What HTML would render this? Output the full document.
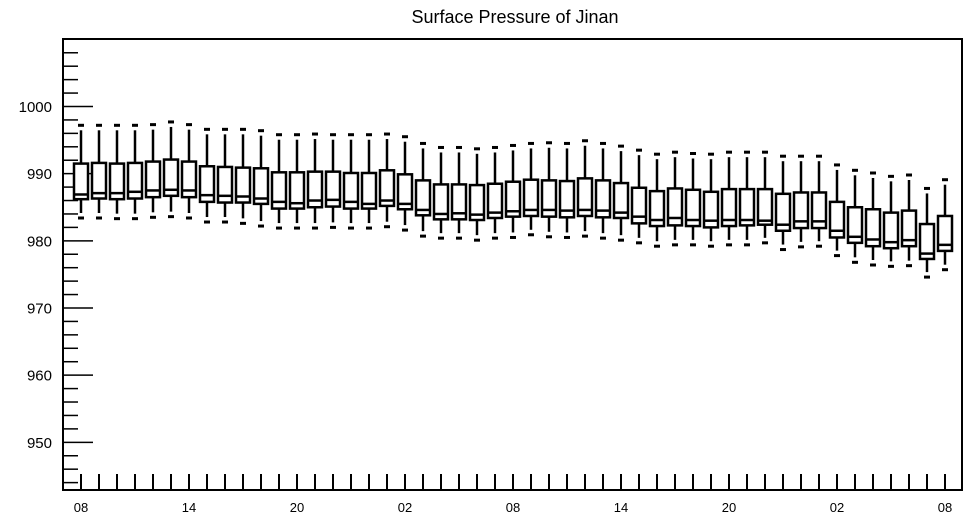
<!DOCTYPE html>
<html><head><meta charset="utf-8"><style>
html,body{margin:0;padding:0;background:#fff;}
svg{display:block;font-family:"Liberation Sans",Arial,sans-serif;}
</style></head><body>
<svg id="chart" width="968" height="518" viewBox="0 0 968 518">
<text x="515" y="23" text-anchor="middle" font-size="18">Surface Pressure of Jinan</text>
<rect x="63" y="39" width="899" height="451" fill="none" stroke="#000" stroke-width="2"/>
<g id="yaxis"></g>
<g id="xaxis"></g>
<g id="boxes"></g>
</svg>
<script>
const hiVals=[997.2,997.2,997.2,997.2,997.3,997.7,997.3,996.6,996.6,996.6,996.4,995.8,995.8,995.9,995.8,995.8,995.8,995.9,995.5,994.5,993.9,993.9,993.7,993.9,994.2,994.5,994.6,994.5,994.9,994.5,994.1,993.5,992.9,993.2,993.0,992.9,993.2,993.2,993.2,992.6,992.6,992.6,991.3,990.5,990.1,989.6,989.8,987.8,989.1];
const q3Vals=[991.5,991.6,991.5,991.6,991.8,992.1,991.8,991.1,991.0,990.9,990.8,990.2,990.2,990.3,990.3,990.1,990.1,990.5,989.9,989.0,988.4,988.4,988.3,988.5,988.8,989.1,989.0,988.9,989.3,989.0,988.6,987.9,987.4,987.8,987.6,987.3,987.7,987.7,987.7,987.0,987.2,987.2,985.8,985.0,984.7,984.2,984.5,982.5,983.7];
const medVals=[986.9,987.1,987.1,987.3,987.5,987.6,987.5,986.8,986.7,986.6,986.3,985.8,985.6,986.0,986.1,985.8,985.5,986.0,985.5,984.6,984.0,984.1,983.9,984.2,984.4,984.6,984.6,984.5,984.6,984.5,984.2,983.6,983.1,983.4,983.1,983.0,983.1,983.1,983.0,982.4,982.9,982.9,981.5,980.6,980.2,979.8,980.1,978.1,979.4];
const q1Vals=[986.2,986.3,986.2,986.3,986.5,986.7,986.5,985.8,985.7,985.7,985.5,984.8,984.8,985.0,985.1,984.8,984.8,985.2,984.7,983.8,983.2,983.2,983.1,983.4,983.6,983.7,983.6,983.5,983.7,983.5,983.4,982.6,982.2,982.3,982.2,982.0,982.2,982.3,982.4,981.5,981.9,981.9,980.5,979.7,979.2,978.9,979.2,977.3,978.5];
const loVals=[983.4,983.4,983.3,983.3,983.5,983.6,983.4,982.8,982.8,982.6,982.2,981.9,981.9,981.9,982.0,981.9,981.9,982.1,981.6,980.7,980.4,980.4,980.1,980.4,980.5,980.9,980.6,980.5,980.7,980.4,980.1,979.7,979.2,979.4,979.4,979.2,979.4,979.4,979.7,978.7,979.1,979.2,977.8,976.8,976.4,976.2,976.3,974.6,975.7];
const yTickLabels=["950","960","970","980","990","1000"];
const xTickLabels=["08","14","20","02","08","14","20","02","08"];

const NS="http://www.w3.org/2000/svg";
const yMin=942.9,yMax=1010.05,top0=39,bot0=490;
function yS(v){return bot0-(v-yMin)/(yMax-yMin)*(bot0-top0);}
function xS(i){return 81+i*18;}
function mk(tag,attrs,parent){const e=document.createElementNS(NS,tag);for(const k in attrs)e.setAttribute(k,attrs[k]);parent.appendChild(e);return e;}
const ya=document.getElementById('yaxis'),xa=document.getElementById('xaxis'),bx=document.getElementById('boxes');
for(let v=944;v<=1008;v+=2){
  const major=v%10===0;
  const t=mk('line',{x1:63,x2:major?93:78,y1:yS(v),y2:yS(v),stroke:'#000','stroke-width':1.5},ya);
  
  
}
yTickLabels.forEach(s=>{
  const t=mk('text',{x:52,y:yS(+s)+5.5,'text-anchor':'end','font-size':15},ya);
  t.textContent=s;
  
  
});
const n=hiVals.length;
for(let i=0;i<n;i++){
  const t=mk('line',{x1:xS(i),x2:xS(i),y1:474,y2:490,stroke:'#000','stroke-width':2},xa);
  
  
}
xTickLabels.forEach((s,j)=>{
  const t=mk('text',{x:xS(j*6),y:512,'text-anchor':'middle','font-size':13},xa);
  t.textContent=s;
  
  
});
for(let i=0;i<n;i++){
  const g=mk('g',{},bx);
  
  
  const x=xS(i),hw=7;
  const yh=yS(hiVals[i]),y3=yS(q3Vals[i]),ym=yS(medVals[i]),y1=yS(q1Vals[i]),yl=yS(loVals[i]);
  mk('line',{x1:x,x2:x,y1:yh+5,y2:y3,stroke:'#000','stroke-width':2.5},g);
  mk('line',{x1:x-3,x2:x+3,y1:yh,y2:yh,stroke:'#000','stroke-width':3},g);
  mk('line',{x1:x,x2:x,y1:y1,y2:yl-5,stroke:'#000','stroke-width':2.5},g);
  mk('line',{x1:x-3,x2:x+3,y1:yl,y2:yl,stroke:'#000','stroke-width':3},g);
  mk('rect',{x:x-hw,y:y3,width:hw*2,height:y1-y3,fill:'#fff',stroke:'#000','stroke-width':2.5},g);
  mk('line',{x1:x-hw,x2:x+hw,y1:ym,y2:ym,stroke:'#000','stroke-width':2.5},g);
}
</script>
</body></html>
